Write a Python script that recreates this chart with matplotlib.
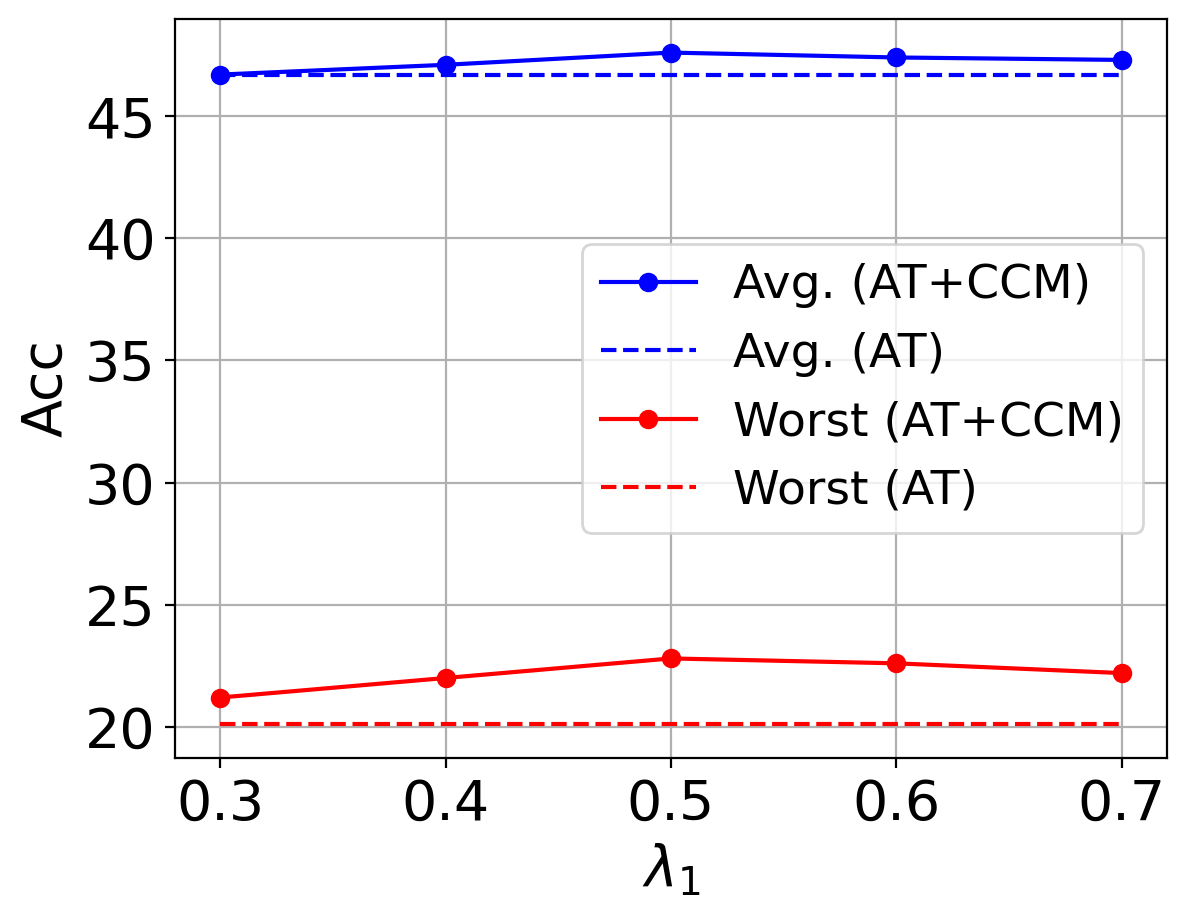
import matplotlib
matplotlib.use("Agg")
import matplotlib.pyplot as plt

# Datos
lambdas = [0.3, 0.4, 0.5, 0.6, 0.7]
avg_ccm = [46.7, 47.1, 47.6, 47.4, 47.3]
avg_at = [46.7, 46.7, 46.7, 46.7, 46.7]
worst_ccm = [21.2, 22.0, 22.8, 22.6, 22.2]
worst_at = [20.1, 20.1, 20.1, 20.1, 20.1]
acc_ticks = [20, 25, 30, 35, 40, 45]

fig = plt.figure(figsize=(5.935, 4.59), dpi=200)
ax = fig.add_axes([0.1474, 0.1743, 0.9831 - 0.1474, 0.9793 - 0.1743])

ax.plot(lambdas, avg_ccm, 'o-', color='blue', label='Avg. (AT+CCM)')
ax.plot(lambdas, avg_at, '--', color='blue', label='Avg. (AT)')
ax.plot(lambdas, worst_ccm, 'o-', color='red', label='Worst (AT+CCM)')
ax.plot(lambdas, worst_at, '--', color='red', label='Worst (AT)')

ax.set_xticks(lambdas)
ax.set_yticks(acc_ticks)
ax.tick_params(labelsize=20)
ax.set_xlabel(r'$\lambda_1$', fontsize=20)
ax.set_ylabel('Acc', fontsize=20)
ax.grid(True)
ax.legend(fontsize=17, loc='center right')

fig.savefig("out.png", dpi=200)
